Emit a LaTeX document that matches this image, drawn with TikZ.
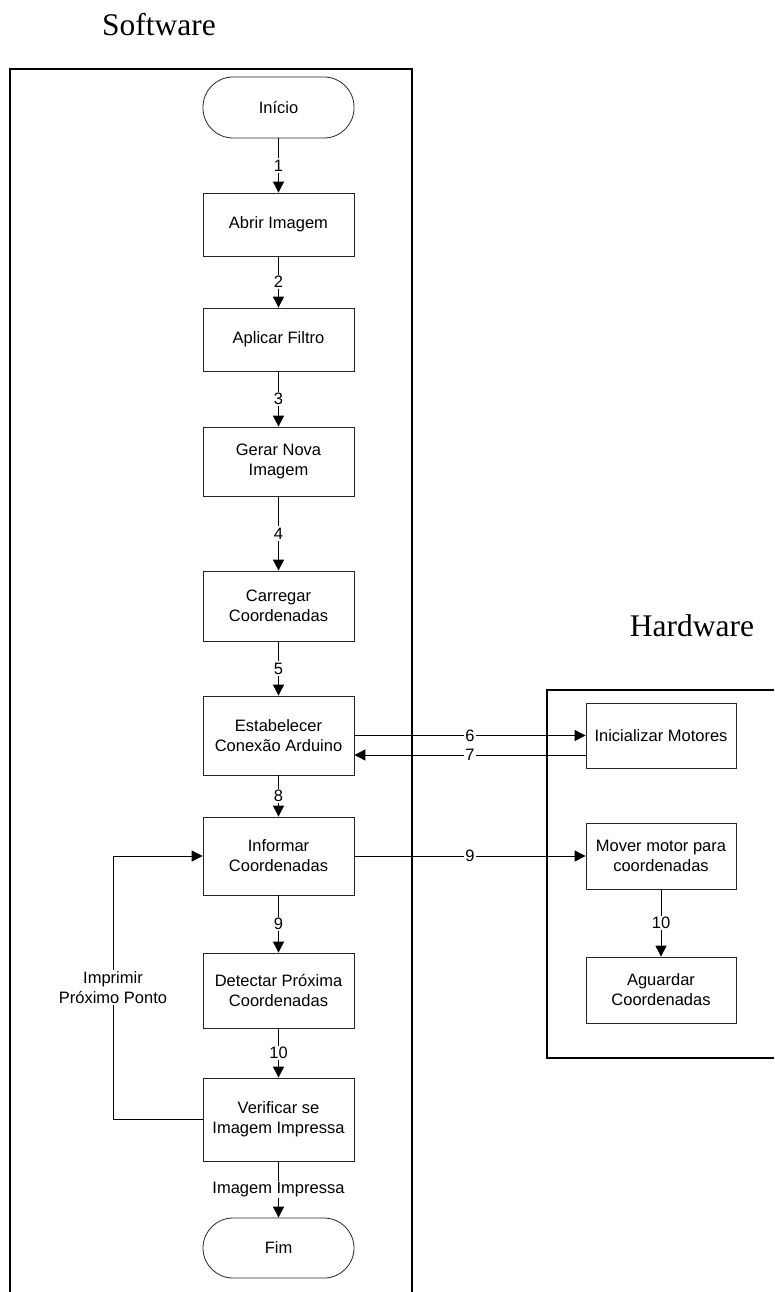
\documentclass[tikz,border=0pt]{standalone}
\usepackage{fontspec}
\setmainfont{Liberation Sans}
\newfontfamily\titlefont{Liberation Serif}
\usetikzlibrary{arrows.meta}

\begin{document}
\begin{tikzpicture}[
    x=1pt, y=-1pt, line join=miter, >={Triangle[length=11pt,width=11pt]},
    font=\fontsize{16.5}{20}\selectfont,
    procbox/.style={draw=black!85, line width=0.8pt, align=center,
      minimum width=151pt, inner sep=2pt},
    termbox/.style={procbox, rounded corners=30pt},
    flow/.style={->, line width=0.9pt},
    lbl/.style={fill=white, inner sep=1.5pt, align=center},
    frame/.style={line width=2pt},
    title/.style={font=\titlefont\fontsize{31.5}{36}\selectfont}
  ]

    % ------------------ Layout ------------------
    \def\swX{278.5}
    \def\hwX{661}
    \def\loopX{113}

    \useasboundingbox (0,0) rectangle (774,1292);

    % ------------------ Frames and titles ------------------
    \draw[frame] (10,1292) -- (10,69) -- (412,69) -- (412,1292);
    \draw[frame] (774,690) -- (547,690) -- (547,1058) -- (774,1058);
    \node[title] (software) at (159,25) {Software};
    \node[title] (hardware) at (692,626) {Hardware};

    % ------------------ Software steps ------------------
    \node[termbox, minimum height=61pt] (inicio) at (\swX,107.5) {Início};
    \node[procbox, minimum height=63pt] (abrir) at (\swX,224.5) {Abrir Imagem};
    \node[procbox, minimum height=63pt] (filtro) at (\swX,339.5) {Aplicar Filtro};
    \node[procbox, minimum height=69pt] (gerar) at (\swX,461.5)
    {Gerar Nova\\Imagem};
    \node[procbox, minimum height=70pt] (carregar) at (\swX,606)
    {Carregar\\Coordenadas};
    \node[procbox, minimum height=79pt] (conexao) at (\swX,735.5)
    {Estabelecer\\Conexão Arduino};
    \node[procbox, minimum height=78pt] (informar) at (\swX,856)
    {Informar\\Coordenadas};
    \node[procbox, minimum height=75pt] (detectar) at (\swX,990.5)
    {Detectar Próxima\\Coordenadas};
    \node[procbox, minimum height=83pt] (verificar) at (\swX,1119.5)
    {Verificar se\\Imagem Impressa};
    \node[termbox, minimum height=60pt] (fim) at (\swX,1248) {Fim};

    % ------------------ Hardware steps ------------------
    \node[procbox, minimum width=150pt, minimum height=65pt] (motores)
    at (\hwX,735.5) {Inicializar Motores};
    \node[procbox, minimum width=150pt, minimum height=66pt] (mover)
    at (\hwX,856) {Mover motor para\\coordenadas};
    \node[procbox, minimum width=150pt, minimum height=66pt] (aguardar)
    at (\hwX,990) {Aguardar\\Coordenadas};

    % ------------------ Software flow ------------------
    \draw[flow] (inicio) -- node[lbl] {1} (abrir);
    \draw[flow] (abrir) -- node[lbl] {2} (filtro);
    \draw[flow] (filtro) -- node[lbl] {3} (gerar);
    \draw[flow] (gerar) -- node[lbl] {4} (carregar);
    \draw[flow] (carregar) -- node[lbl] {5} (conexao);
    \draw[flow] (conexao) -- node[lbl] {8} (informar);
    \draw[flow] (informar) -- node[lbl] {9} (detectar);
    \draw[flow] (detectar) -- node[lbl] {10} (verificar);
    \draw[flow] (verificar) -- node[lbl] {Imagem Impressa} (fim);

    % ------------------ Loop back ------------------
    \coordinate (loopx) at (\loopX,0);
    \draw[flow] (verificar.west) -- (verificar.west -| loopx)
    -- node[lbl] {Imprimir\\Próximo Ponto} (informar.west -| loopx)
    -- (informar.west);

    % ------------------ Software / hardware link ------------------
    \draw[flow] (conexao) -- node[lbl] {6} (motores);
    \coordinate (ret) at ([yshift=-19.5pt]motores.west);
    \draw[flow] (ret) -- node[lbl] {7} (ret -| conexao.east);
    \draw[flow] (informar) -- node[lbl] {9} (mover);
    \draw[flow] (mover) -- node[lbl] {10} (aguardar);

  \end{tikzpicture}
\end{document}
